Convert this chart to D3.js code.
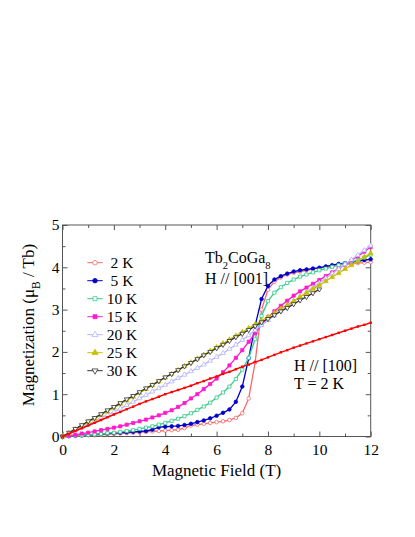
<!DOCTYPE html>
<html>
<head>
<meta charset="utf-8">
<script src="https://cdn.jsdelivr.net/npm/d3@7/dist/d3.min.js"></script>
<style>
  body { margin: 0; background: #fff; }
  svg text { font-family: "Liberation Serif", "Times New Roman", "DejaVu Serif", serif !important; fill: #000; }
</style>
</head>
<body>
<div id="chart"></div>
<script>
// magnetic field grid (T)
const field = [0, 0.25, 0.5, 0.75, 1, 1.25, 1.5, 1.75, 2, 2.25, 2.5, 2.75, 3, 3.25, 3.5, 3.75,
  4, 4.25, 4.5, 4.75, 5, 5.25, 5.5, 5.75, 6, 6.25, 6.5, 6.75, 7, 7.25, 7.5, 7.75,
  8, 8.25, 8.5, 8.75, 9, 9.25, 9.5, 9.75, 10, 10.25, 10.5, 10.75, 11, 11.25, 11.5, 11.75, 12];

// H // [001], magnetization in muB / Tb
const m2K = [0, .01, .01, .02, .03, .03, .04, .05, .06, .07, .08, .09, .10, .11, .12, .13,
  .14, .15, .16, .20, .26, .28, .30, .32, .34, .36, .39, .44, .55, .90, 1.75, 3.00,
  3.47, 3.66, 3.76, 3.83, 3.87, 3.90, 3.93, 3.96, 3.98, 4.01, 4.03, 4.05, 4.07, 4.08, 4.10, 4.11, 4.12];
const m5K = [0, .01, .02, .03, .04, .05, .06, .07, .08, .09, .10, .11, .12, .13, .16, .22,
  .23, .24, .25, .27, .30, .34, .38, .43, .49, .56, .64, .82, 1.18, 1.85, 2.62, 3.25,
  3.56, 3.71, 3.79, 3.85, 3.90, 3.93, 3.95, 3.97, 3.99, 4.02, 4.05, 4.08, 4.10, 4.12, 4.14, 4.17, 4.19];
const m10K = [0, .01, .02, .03, .04, .05, .06, .08, .09, .11, .13, .15, .18, .21, .24, .28,
  .32, .37, .42, .48, .55, .63, .71, .80, .92, 1.04, 1.18, 1.36, 1.58, 1.86, 2.30, 2.85,
  3.20, 3.40, 3.53, 3.63, 3.71, 3.78, 3.83, 3.88, 3.93, 3.97, 4.01, 4.05, 4.09, 4.13, 4.17, 4.23, 4.30];
const m15K = [0, .02, .04, .07, .09, .12, .15, .18, .21, .24, .28, .32, .36, .40, .45, .50,
  .56, .62, .70, .79, .90, 1.00, 1.12, 1.24, 1.37, 1.52, 1.68, 1.86, 2.04, 2.24, 2.44, 2.64,
  2.82, 2.96, 3.09, 3.21, 3.33, 3.43, 3.52, 3.61, 3.70, 3.79, 3.88, 3.97, 4.06, 4.16, 4.26, 4.37, 4.48];
const m20K = [0, .07, .15, .22, .29, .36, .44, .51, .58, .66, .74, .82, .90, .98, 1.06, 1.14,
  1.22, 1.30, 1.38, 1.46, 1.54, 1.62, 1.70, 1.79, 1.88, 1.97, 2.07, 2.17, 2.28, 2.39, 2.51, 2.63,
  2.75, 2.86, 2.97, 3.08, 3.19, 3.30, 3.41, 3.52, 3.63, 3.74, 3.85, 3.96, 4.07, 4.18, 4.29, 4.40, 4.51];
const m25K = [0, .08, .17, .25, .34, .42, .51, .59, .68, .77, .85, .94, 1.03, 1.12, 1.21, 1.30,
  1.39, 1.48, 1.57, 1.66, 1.75, 1.84, 1.93, 2.02, 2.11, 2.20, 2.29, 2.38, 2.47, 2.56, 2.65, 2.74,
  2.83, 2.92, 3.02, 3.11, 3.20, 3.30, 3.39, 3.49, 3.58, 3.67, 3.77, 3.86, 3.96, 4.05, 4.14, 4.24, 4.33];
const m30K = [0, .09, .18, .27, .36, .44, .53, .62, .70, .79, .88, .96, 1.05, 1.14, 1.22, 1.31,
  1.40, 1.48, 1.57, 1.66, 1.74, 1.83, 1.92, 2.00, 2.09, 2.17, 2.26, 2.35, 2.43, 2.52, 2.61, 2.70,
  2.78, 2.87, 2.96, 3.04, 3.13, 3.22, 3.30, 3.39, 3.48];

// H // [100], T = 2 K
const m100 = [0, .065, .13, .195, .26, .325, .39, .455, .52, .58, .645, .705, .77, .83, .885, .94,
  1.00, 1.05, 1.10, 1.15, 1.20, 1.26, 1.31, 1.37, 1.42, 1.48, 1.53, 1.59, 1.65, 1.70, 1.76, 1.81,
  1.87, 1.93, 1.99, 2.04, 2.10, 2.15, 2.20, 2.25, 2.30, 2.35, 2.40, 2.45, 2.50, 2.55, 2.60, 2.64, 2.69];

const xTicks = [0, 2, 4, 6, 8, 10, 12];
const xMinor = [1, 3, 5, 7, 9, 11];
const yTicks = [0, 1, 2, 3, 4, 5];
const yMinor = [0.5, 1.5, 2.5, 3.5, 4.5];

const series = [
  {label: '2 K', values: m2K, color: '#f26a6a', symbol: 'circle', open: true},
  {label: '5 K', values: m5K, color: '#0000cc', symbol: 'circle', open: false},
  {label: '10 K', values: m10K, color: '#33cc88', symbol: 'square', open: true},
  {label: '15 K', values: m15K, color: '#ff1acc', symbol: 'square', open: false},
  {label: '20 K', values: m20K, color: '#b4b4ff', symbol: 'triangle', open: true},
  {label: '25 K', values: m25K, color: '#c8c000', symbol: 'triangle', open: false},
  {label: '30 K', values: m30K, color: '#333333', symbol: 'down', open: true}
];

const FONT = '"Liberation Serif", "Times New Roman", "DejaVu Serif", serif';

let width = 415, height = 537;
let margin = {left: 62.5, right: 44.3, top: 225, bottom: 100.5};

let svg = d3.select('#chart').append('svg')
  .attr('width', width).attr('height', height)
  .attr('font-family', FONT);

let x = d3.scaleLinear().domain([0, 12]).range([margin.left, width - margin.right]);
let y = d3.scaleLinear().domain([0, 5]).range([height - margin.bottom, margin.top]);

const axisColor = '#555';

function styleAxis(g) {
  g.attr('font-family', FONT).attr('font-size', null);
  g.select('.domain').remove();
  g.selectAll('.tick line').attr('stroke', axisColor);
  g.selectAll('.tick text').style('font-size', '15.5px').attr('fill', '#000');
}

// frame
svg.append('rect')
  .attr('x', x(0)).attr('y', y(5))
  .attr('width', x(12) - x(0)).attr('height', y(0) - y(5))
  .attr('fill', 'none').attr('stroke', axisColor).attr('stroke-width', 1);

const fmt = d3.format('d');

// bottom
svg.append('g').attr('transform', `translate(0,${y(0)})`)
  .call(d3.axisBottom(x).tickValues(xTicks).tickFormat(fmt).tickSizeInner(-5).tickSizeOuter(0).tickPadding(7.5))
  .call(styleAxis);
svg.append('g').attr('transform', `translate(0,${y(0)})`)
  .call(d3.axisBottom(x).tickValues(xMinor).tickSizeInner(-3).tickSizeOuter(0).tickFormat(''))
  .call(styleAxis);
// top
svg.append('g').attr('transform', `translate(0,${y(5)})`)
  .call(d3.axisTop(x).tickValues(xTicks).tickSizeInner(-5).tickSizeOuter(0).tickFormat(''))
  .call(styleAxis);
svg.append('g').attr('transform', `translate(0,${y(5)})`)
  .call(d3.axisTop(x).tickValues(xMinor).tickSizeInner(-3).tickSizeOuter(0).tickFormat(''))
  .call(styleAxis);
// left
svg.append('g').attr('transform', `translate(${x(0)},0)`)
  .call(d3.axisLeft(y).tickValues(yTicks).tickFormat(fmt).tickSizeInner(-5).tickSizeOuter(0).tickPadding(3))
  .call(styleAxis);
svg.append('g').attr('transform', `translate(${x(0)},0)`)
  .call(d3.axisLeft(y).tickValues(yMinor).tickSizeInner(-3).tickSizeOuter(0).tickFormat(''))
  .call(styleAxis);
// right
svg.append('g').attr('transform', `translate(${x(12)},0)`)
  .call(d3.axisRight(y).tickValues(yTicks).tickSizeInner(-5).tickSizeOuter(0).tickFormat(''))
  .call(styleAxis);
svg.append('g').attr('transform', `translate(${x(12)},0)`)
  .call(d3.axisRight(y).tickValues(yMinor).tickSizeInner(-3).tickSizeOuter(0).tickFormat(''))
  .call(styleAxis);

// axis titles
svg.append('text')
  .attr('x', (x(0) + x(12)) / 2).attr('y', 476)
  .attr('text-anchor', 'middle').style('font-size', '17px')
  .text('Magnetic Field (T)');

let yt = svg.append('text')
  .attr('transform', `translate(34,325) rotate(-90)`)
  .attr('text-anchor', 'middle').style('font-size', '17px');
yt.append('tspan').text('Magnetization (\u03bc');
yt.append('tspan').attr('baseline-shift', 'sub').style('font-size', '11.5px').text('B');
yt.append('tspan').text(' / Tb)');

// markers
function symbolPath(kind, size) {
  if (kind === 'circle') return d3.symbol(d3.symbolCircle, size)();
  if (kind === 'square') return d3.symbol(d3.symbolSquare, size)();
  return d3.symbol(d3.symbolTriangle, size)();
}

function drawMarkers(g, pts, s, size) {
  g.selectAll('path.mk')
    .data(pts)
    .join('path')
    .attr('class', 'mk')
    .attr('d', symbolPath(s.symbol, size))
    .attr('transform', d => `translate(${d[0]},${d[1]})` + (s.symbol === 'down' ? ' rotate(180)' : ''))
    .attr('fill', s.open ? '#fff' : s.color)
    .attr('stroke', s.color)
    .attr('stroke-width', 0.8);
}

let line = d3.line();
let plot = svg.append('g');

series.forEach(s => {
  let pts = s.values.map((v, i) => [x(field[i]), y(v)]);
  let g = plot.append('g');
  g.append('path').attr('d', line(pts))
    .attr('fill', 'none').attr('stroke', s.color).attr('stroke-width', 1.3);
  drawMarkers(g, pts, s, 10);
});

// H // [100]
{
  let pts = m100.map((v, i) => [x(field[i]), y(v)]);
  let g = plot.append('g');
  g.append('path').attr('d', line(pts))
    .attr('fill', 'none').attr('stroke', '#ff0000').attr('stroke-width', 1.4);
  g.selectAll('rect')
    .data(pts)
    .join('rect')
    .attr('x', d => d[0] - 1.2).attr('y', d => d[1] - 1.2)
    .attr('width', 2.4).attr('height', 2.4)
    .attr('fill', '#ff0000');
}

// legend
let legend = svg.append('g');
series.forEach((s, i) => {
  let cy = 262.7 + i * 18;
  let row = legend.append('g');
  row.append('line')
    .attr('x1', 87.3).attr('x2', 102.7).attr('y1', cy).attr('y2', cy)
    .attr('stroke', s.color).attr('stroke-width', 1);
  drawMarkers(row, [[95, cy]], s, 16);
  row.append('text')
    .attr('x', s.label.length === 3 ? 110.5 : 106.7)
    .attr('y', cy + 5.4)
    .style('font-size', '15.5px')
    .text(s.label);
});

// annotations
let t1 = svg.append('text').attr('x', 205).attr('y', 262.5).style('font-size', '16px');
t1.append('tspan').text('Tb');
t1.append('tspan').attr('baseline-shift', 'sub').style('font-size', '10.5px').text('2');
t1.append('tspan').text('CoGa');
t1.append('tspan').attr('baseline-shift', 'sub').style('font-size', '10.5px').text('8');

svg.append('text').attr('x', 205).attr('y', 284).style('font-size', '16px').text('H // [001]');
svg.append('text').attr('x', 294).attr('y', 371).style('font-size', '16px').text('H // [100]');
svg.append('text').attr('x', 294).attr('y', 388.5).style('font-size', '16px').text('T = 2 K');
</script>
</body>
</html>
